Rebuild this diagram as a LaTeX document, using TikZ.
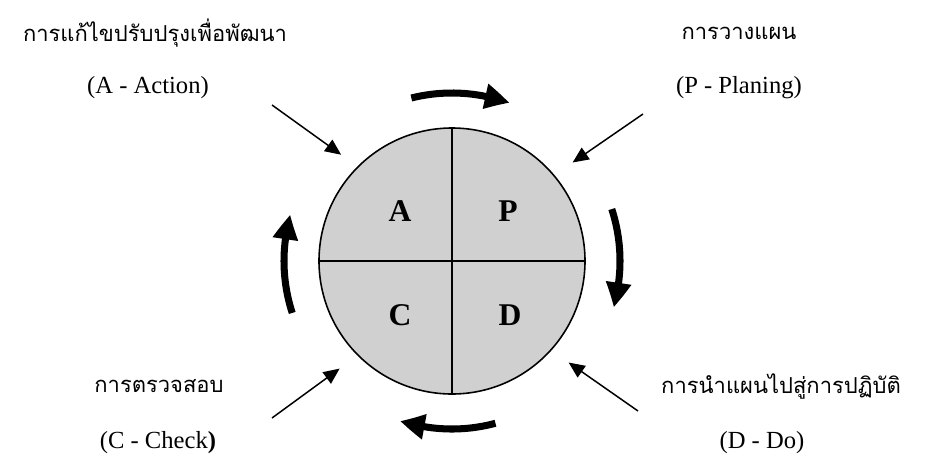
\documentclass[tikz,border=0pt]{standalone}
\usepackage{fontspec}
\setmainfont{Liberation Serif}
\newfontfamily\thaifont[Script=Thai]{Loma}
\usetikzlibrary{arrows.meta,bending}
\definecolor{cDisk}{RGB}{208,208,208}
\tikzset{
  disk/.style={circle, draw=black, line width=0.9pt, fill=cDisk,
    minimum size=5.32cm, inner sep=0pt},
  letter/.style={font=\fontsize{18}{20}\selectfont\bfseries},
  thaititle/.style={font=\thaifont\fontsize{12.5}{15}\selectfont},
  engtitle/.style={font=\fontsize{14}{16}\selectfont},
  pointer/.style={-{Triangle[length=0.32cm,width=0.28cm]}, line width=0.85pt},
  turnarrow/.style={-{Triangle[length=0.5cm,width=0.48cm,bend]}, line width=4pt},
}

\begin{document}
\begin{tikzpicture}

  \useasboundingbox[fill=white] (-9.04,-3.9) rectangle (9.62,5.22);

  % ---------- PDCA disk ----------
  \node[disk] (pdca) at (0,0) {};
  \draw[line width=0.6pt] (pdca.north) -- (pdca.south);
  \draw[line width=0.6pt] (pdca.west) -- (pdca.east);
  \node[letter] (A) at (-1.04,1.0) {A};
  \node[letter] (P) at (1.12,1.0) {P};
  \node[letter] (C) at (-1.04,-1.08) {C};
  \node[letter] (D) at (1.16,-1.08) {D};

  % ---------- cycle arrows ----------
  \foreach \a/\b in {104/70, 18/-16, -75/-108, 198/164} {
    \draw[turnarrow] (\a:3.36) arc[start angle=\a, end angle=\b, radius=3.36];
  }

  % ---------- labels ----------
  \node[thaititle] (tA) at (-5.94,4.56) {การแก้ไขปรับปรุงเพื่อพัฒนา};
  \node[engtitle]  (eA) at (-6.08,3.46) {(A - Action)};
  \node[thaititle] (tP) at (5.74,4.56) {การวางแผน};
  \node[engtitle]  (eP) at (5.74,3.46) {(P - Planing)};
  \node[thaititle] (tC) at (-5.86,-2.5) {การตรวจสอบ};
  \node[engtitle]  (eC) at (-5.88,-3.64) {(C - Check\textbf{)}};
  \node[thaititle] (tD) at (6.58,-2.5) {การนำแผนไปสู่การปฏิบัติ};
  \node[engtitle]  (eD) at (6.2,-3.64) {(D - Do)};

  % ---------- pointers ----------
  \coordinate (fromA) at (-3.6,3.12);
  \coordinate (fromP) at (3.82,2.94);
  \coordinate (fromC) at (-3.6,-3.14);
  \coordinate (fromD) at (3.72,-3.0);
  \draw[pointer, shorten >=0.4cm]  (fromA) -- (pdca.135);
  \draw[pointer, shorten >=0.44cm] (fromP) -- (pdca.40);
  \draw[pointer, shorten >=0.44cm] (fromC) -- (pdca.-135);
  \draw[pointer, shorten >=0.42cm] (fromD) -- (pdca.-42);

\end{tikzpicture}
\end{document}
